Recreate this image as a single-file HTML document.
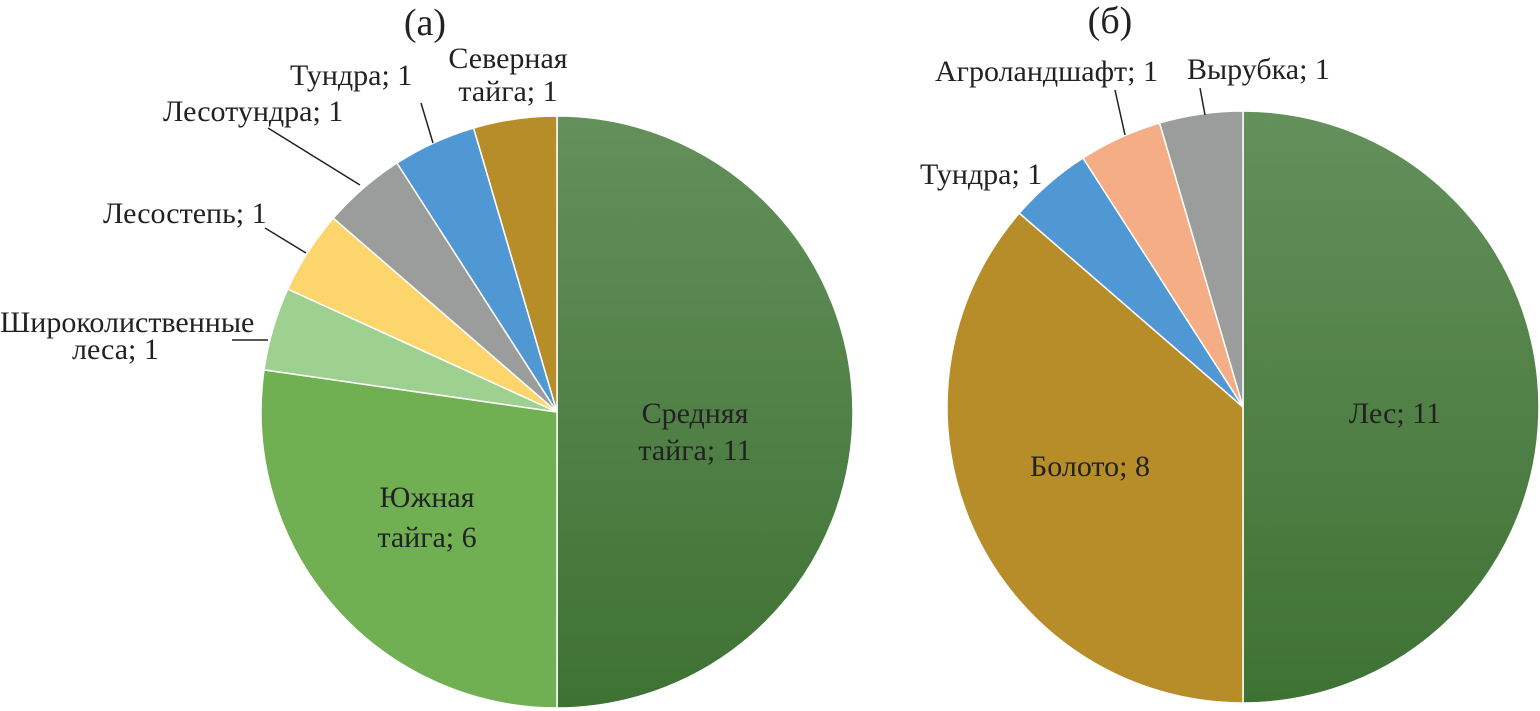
<!DOCTYPE html>
<html><head><meta charset="utf-8">
<style>
html,body{margin:0;padding:0;background:#fff;}
svg{display:block;font-family:"Liberation Serif",serif;}
text{fill:#222;font-size:30px;}
</style></head>
<body>
<svg id="chart" width="1540" height="711" viewBox="0 0 1540 711">
<defs>
<linearGradient id="gDark" x1="0" y1="0" x2="0" y2="1">
<stop offset="0" stop-color="#64905b"/><stop offset="1" stop-color="#3e7233"/>
</linearGradient>
</defs>
<text x="425" y="35" style="font-size:38px" text-anchor="middle">(а)</text>
<text x="1110" y="33" style="font-size:38px" text-anchor="middle">(б)</text>
<g id="pieA"></g>
<g id="pieB"></g>
<g id="labels"></g>
</svg>
<script>
const catsA = ["Средняя тайга","Южная тайга","Широколиственные леса","Лесостепь","Лесотундра","Тундра","Северная тайга"];
const valsA = [11,6,1,1,1,1,1];
const colorsA = ["url(#gDark)","#70b052","#9ed08f","#fcd66d","#9b9c9c","#5098d3","#b78d2a"];
const catsB = ["Лес","Болото","Тундра","Агроландшафт","Вырубка"];
const valsB = [11,8,1,1,1];
const colorsB = ["url(#gDark)","#b78d2a","#5098d3","#f4ad84","#9b9c9c"];
const NS="http://www.w3.org/2000/svg";
function drawPie(gid, cx, cy, r, vals, colors, cats){
  const g=document.getElementById(gid);
  const tot=vals.reduce((a,b)=>a+b,0);
  let a0=0;
  vals.forEach((v,i)=>{
    const a1=a0+v/tot*2*Math.PI;
    const x0=cx+r*Math.sin(a0), y0=cy-r*Math.cos(a0);
    const x1=cx+r*Math.sin(a1), y1=cy-r*Math.cos(a1);
    const large=(a1-a0)>Math.PI?1:0;
    const p=document.createElementNS(NS,"path");
    p.setAttribute("d",`M${cx},${cy}L${x0},${y0}A${r},${r} 0 ${large} 1 ${x1},${y1}Z`);
    p.setAttribute("fill",colors[i]);
    p.setAttribute("stroke","#fff");
    p.setAttribute("stroke-width","1.5");
    
    
    const t=document.createElementNS(NS,"title");t.textContent=cats[i]+"; "+v;p.appendChild(t);
    g.appendChild(p);
    a0=a1;
  });
}
drawPie("pieA",557,412,296,valsA,colorsA,catsA);
drawPie("pieB",1243,407,296,valsB,colorsB,catsB);
const L=document.getElementById("labels");
function txt(x,y,s,anchor,name){
  const t=document.createElementNS(NS,"text");
  t.setAttribute("x",x);t.setAttribute("y",y);t.setAttribute("text-anchor",anchor||"start");
  t.textContent=s;
  
  
  L.appendChild(t);
}
function line(x1,y1,x2,y2,name){
  const l=document.createElementNS(NS,"line");
  l.setAttribute("x1",x1);l.setAttribute("y1",y1);l.setAttribute("x2",x2);l.setAttribute("y2",y2);
  l.setAttribute("stroke","#222");l.setAttribute("stroke-width","1.5");
  
  
  L.appendChild(l);
}
txt(508,68,"Северная","middle","label-severnaya-1");
txt(508,101,"тайга; "+valsA[6],"middle","label-severnaya-2");
txt(290,85,"Тундра; "+valsA[5],"start","label-tundra-a");
line(421,103,433,143,"leader-tundra-a");
txt(163,121,"Лесотундра; "+valsA[4],"start","label-lesotundra");
line(268,128,360,185,"leader-lesotundra");
txt(103,223,"Лесостепь; "+valsA[3],"start","label-lesostep");
line(265,228,306,253,"leader-lesostep");
txt(0,332,"Широколиственные","start","label-shirokolist-1");
txt(72,359,"леса; "+valsA[2],"start","label-shirokolist-2");
line(232,340,268,340,"leader-shirokolist");
txt(695,423,"Средняя","middle","label-srednyaya-1");
txt(695,460,"тайга; "+valsA[0],"middle","label-srednyaya-2");
txt(427,507,"Южная","middle","label-yuzhnaya-1");
txt(427,547,"тайга; "+valsA[1],"middle","label-yuzhnaya-2");
txt(935,81,"Агроландшафт; "+valsB[3],"start","label-agro");
line(1115,90,1125,135,"leader-agro");
txt(1187,79,"Вырубка; "+valsB[4],"start","label-vyrubka");
line(1200,88,1205,115,"leader-vyrubka");
txt(920,184,"Тундра; "+valsB[2],"start","label-tundra-b");
txt(1090,476,"Болото; "+valsB[1],"middle","label-boloto");
txt(1395,423,"Лес; "+valsB[0],"middle","label-les");
</script>
</body></html>
